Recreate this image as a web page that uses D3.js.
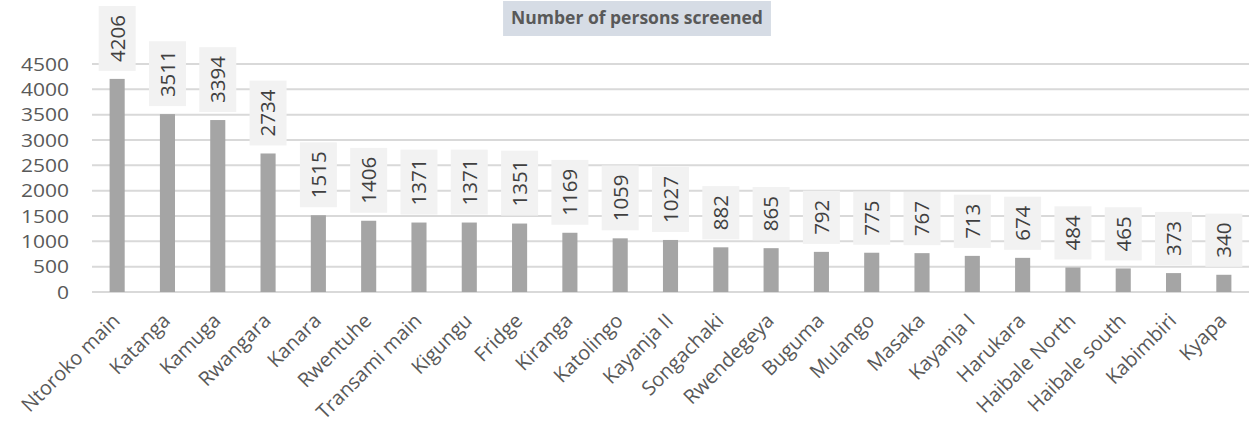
<!DOCTYPE html>
<html>
<head>
<meta charset="utf-8">
<script src="https://cdn.jsdelivr.net/npm/d3@7"></script>
<style>
  html, body { margin: 0; padding: 0; background: #fff; }
  svg { display: block; font-family: "Open Sans", sans-serif; }
</style>
</head>
<body>
<svg width="1256" height="424"></svg>
<script>
//*
//* Data
//*

var categories = ["Ntoroko main", "Katanga", "Kamuga", "Rwangara", "Kanara", "Rwentuhe",
	"Transami main", "Kigungu", "Fridge", "Kiranga", "Katolingo", "Kayanja II", "Songachaki",
	"Rwendegeya", "Buguma", "Mulango", "Masaka", "Kayanja I", "Harukara", "Haibale North",
	"Haibale south", "Kabimbiri", "Kyapa"];
var screened = [4206, 3511, 3394, 2734, 1515, 1406, 1371, 1371, 1351, 1169, 1059, 1027, 882,
	865, 792, 775, 767, 713, 674, 484, 465, 373, 340];
var yTicks = [0, 500, 1000, 1500, 2000, 2500, 3000, 3500, 4000, 4500];
var chartTitle = "Number of persons screened";

//*
//* Drawing
//*

var svg = d3.select("svg");
var plotLeft = 92, plotRight = 1249, plotTop = 64, plotBottom = 292;

var x = d3.scaleBand()
	.domain(categories)
	.range([plotLeft, plotRight])
	.paddingInner(0.7)
	.paddingOuter(0.35);

var y = d3.scaleLinear()
	.domain([0, 4500])
	.range([plotBottom, plotTop]);

/* gridlines */
svg.append("g")
	.selectAll("line")
	.data(yTicks)
	.enter()
	.append("line")
	.attr("x1", plotLeft)
	.attr("x2", plotRight)
	.attr("y1", function(d) { return y(d); })
	.attr("y2", function(d) { return y(d); })
	.attr("stroke", "#d9d9d9")
	.attr("stroke-width", 2);

/* y axis labels */
var yAxis = svg.append("g")
	.attr("transform", "translate(" + (plotLeft - 23) + ",0)")
	.call(d3.axisLeft(y).tickValues(yTicks).tickFormat(d3.format("d")).tickSize(0).tickPadding(0));
yAxis.select(".domain").remove();
yAxis.selectAll("text")
	.attr("fill", "#595959")
	.style("font-size", "17.5px")
	.style("font-family", "'Open Sans', sans-serif")
	.attr("transform", "scale(1.2,1)")
	.attr("dy", "0.36em");

/* bars */
svg.append("g")
	.selectAll("rect")
	.data(screened)
	.enter()
	.append("rect")
	.attr("x", function(d, i) { return x(categories[i]); })
	.attr("width", x.bandwidth())
	.attr("y", function(d) { return y(d); })
	.attr("height", function(d) { return y(0) - y(d); })
	.attr("fill", "#a5a5a5");

/* data labels with boxes */
var labels = svg.append("g")
	.selectAll("g")
	.data(screened)
	.enter()
	.append("g")
	.attr("transform", function(d, i) {
		return "translate(" + (x(categories[i]) + x.bandwidth() / 2) + "," + (y(d) - 8) + ")";
	});

labels.append("rect").attr("fill", "#f2f2f2");
labels.append("text")
	.text(function(d) { return d; })
	.attr("fill", "#404040")
	.style("font-size", "20.5px")
	.attr("text-anchor", "middle")
	.attr("dy", "0.36em");

labels.each(function() {
	var g = d3.select(this);
	var len = g.select("text").node().getComputedTextLength();
	var h = len + 18;
	g.select("text").attr("transform", "translate(0," + (-h / 2) + ") rotate(-90)");
	g.select("rect")
		.attr("x", -18.5)
		.attr("y", -h)
		.attr("width", 37)
		.attr("height", h);
});

/* category labels */
svg.append("g")
	.selectAll("text")
	.data(categories)
	.enter()
	.append("text")
	.text(function(d) { return d; })
	.attr("fill", "#595959")
	.style("font-size", "20px")
	.attr("text-anchor", "end")
	.attr("transform", function(d) {
		return "translate(" + (x(d) + x.bandwidth() / 2 + 4) + "," + (plotBottom + 30) + ") rotate(-45)";
	});

/* title */
var titleG = svg.append("g");
var titleRect = titleG.append("rect").attr("fill", "#d6dce5");
var titleText = titleG.append("text")
	.text(chartTitle)
	.attr("x", 637)
	.attr("y", 24)
	.attr("text-anchor", "middle")
	.attr("fill", "#595959")
	.style("font-size", "17.5px")
	.style("font-weight", "bold");
var tw = titleText.node().getComputedTextLength();
titleRect
	.attr("x", 637 - tw / 2 - 8)
	.attr("y", 1)
	.attr("width", tw + 16)
	.attr("height", 35);
</script>
</body>
</html>
